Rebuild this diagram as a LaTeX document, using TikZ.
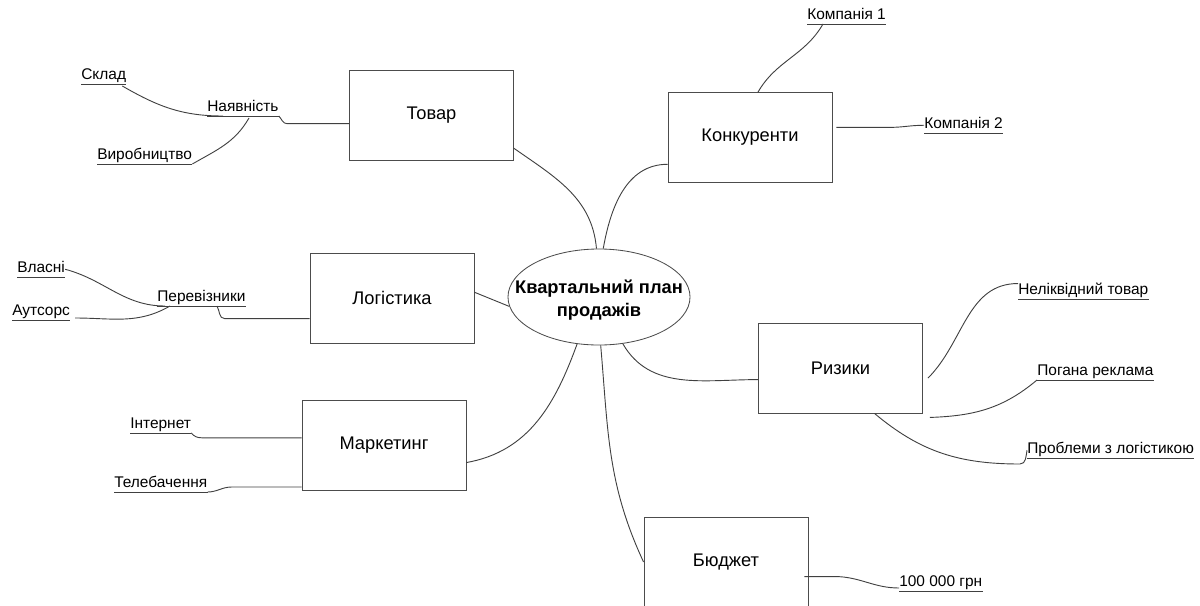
\documentclass[tikz,border=0pt]{standalone}
\usepackage{fontspec}
\setmainfont{Liberation Sans}
\usepackage{tikz}
\usetikzlibrary{calc}
\usetikzlibrary{positioning}
\usetikzlibrary{shapes}

\begin{document}
\begin{tikzpicture}[x=0.025cm, y=-0.025cm]
            % Set primary nodes
            \tikzset{
                topicNode/.style={
                        draw=black!70,
                        rectangle,
                        line width=0.6pt,
                        minimum height=2.25cm,
                        minimum width=4.1cm,
                        font=\fontsize{13}{15}\selectfont
                    }
            }
            \tikzset{
                planNode/.style={
                        draw=black!70,
                        ellipse,
                        line width=0.6pt,
                        minimum height=2.4cm,
                        minimum width=4.55cm
                    }
            }
            \tikzset{
                mapLine/.style={
                        draw=black!75,
                        line width=0.65pt
                    }
            }
            \tikzset{
                leafNode/.style={
                        anchor=south west,
                        inner xsep=0pt,
                        inner ysep=0.6pt,
                        text height=0.72em,
                        text depth=0.22em,
                        font=\fontsize{11}{13}\selectfont,
                        append after command={(\tikzlastnode.south west) edge[mapLine] (\tikzlastnode.south east)}
                    }
            }
            \useasboundingbox (0,0) rectangle (1200,605);
            % Placing nodes
            \node[planNode](plan) at (599,297){};
            \node[font=\bfseries\fontsize{13}{16.5}\selectfont, align=center](planText) at ($(plan)+(0,3)$){Квартальний план\\продажів};
            \node[topicNode](tovar) at (431.5,115){Товар};
            \node[topicNode](konkurenty) at (750,137.5){Конкуренти};
            \node[topicNode](logistyka) at (392,298){Логістика};
            \node[topicNode](marketing) at (384,445){Маркетинг};
            \node[topicNode](ryzyky) at (840.5,368){Ризики};
            \node[topicNode](budget) at (726,562){Бюджет};
            \node[leafNode](sklad) at (81,84){Склад};
            \node[leafNode](nayavnist) at (207,116){Наявність};
            \node[leafNode](vyrobnytstvo) at (97,164){Виробництво};
            \node[leafNode](kompaniya1) at (807,24){Компанія 1};
            \node[leafNode](kompaniya2) at (924,133){Компанія 2};
            \node[leafNode](vlasni) at (17,277){Власні};
            \node[leafNode](perevizniky) at (157,306){Перевізники};
            \node[leafNode](autsors) at (12,320){Аутсорс};
            \node[leafNode](internet) at (130,433){Інтернет};
            \node[leafNode](telebachennya) at (114,492){Телебачення};
            \node[leafNode](nelikvidnyi) at (1018,299){Неліквідний товар};
            \node[leafNode](pogana) at (1037,380){Погана реклама};
            \node[leafNode](problemy) at (1027,458){Проблеми з логістикою};
            \node[leafNode](hrn) at (899,591){100 000 грн};
            % Draw connections
            \draw[mapLine](tovar.-22) to[out=-35,in=95] (plan.93);
            \draw[mapLine](plan.85) to[out=80,in=180] (konkurenty.198);
            \draw[mapLine](logistyka.4) -- (plan.186);
            \draw[mapLine](marketing.-12) to[out=10,in=250] (plan.245);
            \draw[mapLine](plan.-63) to[out=-60,in=180] (ryzyky.188);
            \draw[mapLine](plan.-88) to[out=-85,in=115] (budget.west);
            \draw[mapLine](tovar.186) -- ++(-62,0) to[out=180,in=-45] (nayavnist.south east);
            \draw[mapLine]($(sklad.south east)+(-4,2)$) to[out=-30,in=180] ($(nayavnist.south west)+(16,0)$);
            \draw[mapLine]($(nayavnist.south west)+(42,2)$) to[out=-120,in=30] (vyrobnytstvo.south east);
            \draw[mapLine](konkurenty.80) to[out=60,in=-120] ($(kompaniya1.south west)+(16,0)$);
            \draw[mapLine]([xshift=0.1cm]konkurenty.7) -- ++(53,0) to[out=0,in=180] (kompaniya2.west);
            \draw[mapLine](logistyka.194) -- ++(-85,0) to[out=180,in=-60] ($(perevizniky.south west)+(60,0)$);
            \draw[mapLine](vlasni.east) to[out=-15,in=180] ($(perevizniky.south west)+(8,0)$);
            \draw[mapLine]($(autsors.south east)+(5,-2)$) to[out=0,in=-150] ($(perevizniky.south west)+(13,0)$);
            \draw[mapLine](marketing.175) -- ++(-100,0) to[out=180,in=-50] (internet.south east);
            \draw[mapLine](marketing.207) -- ++(-70,0) to[out=180,in=0] (telebachennya.south east);
            \draw[mapLine]($(ryzyky.-7)+(5,0)$) to[out=45,in=180] (nelikvidnyi.north west);
            \draw[mapLine]($(ryzyky.south east)+(7,4)$) to[out=2,in=-140] (pogana.south west);
            \draw[mapLine]($(ryzyky.south)+(34,0)$) to[out=-40,in=180] ($(problemy.south west)+(-7,6)$) to[out=0,in=-100] (problemy.west);
            \draw[mapLine]($(budget.-10)+(-4,0)$) -- ++(30,0) to[out=0,in=180] ($(hrn.south west)+(0,-3)$);
        \end{tikzpicture}
\end{document}
